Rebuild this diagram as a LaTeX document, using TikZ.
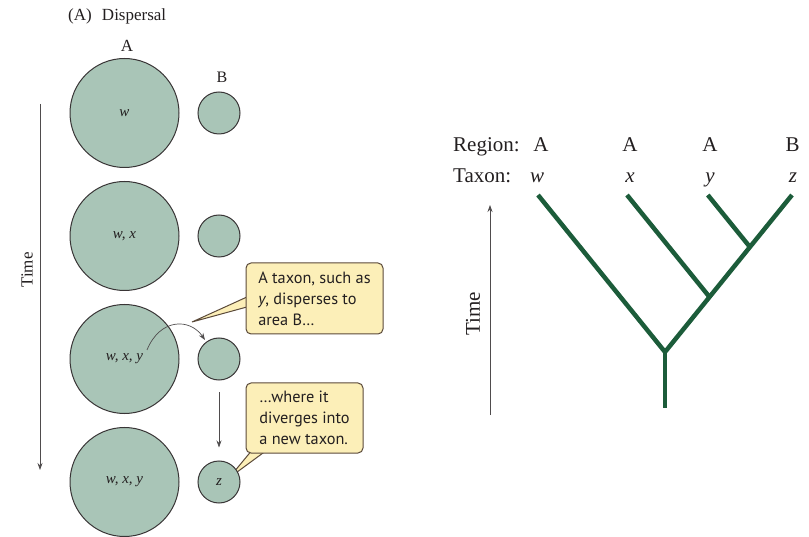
\documentclass[tikz,border=0pt]{standalone}
\usepackage{fontspec}
\setmainfont{Liberation Serif}
\newfontfamily\calloutfont{PT Sans}
\usetikzlibrary{arrows.meta,backgrounds}
\definecolor{sage}{HTML}{A9C5B7}
\definecolor{ink}{HTML}{231F20}
\definecolor{notefill}{HTML}{FCEFB8}
\definecolor{noteedge}{HTML}{5B4A3A}
\definecolor{branch}{HTML}{1C5C3A}

\begin{document}
\begin{tikzpicture}[x=1pt,y=-1pt,
  area/.style={circle, draw=ink!90, line width=1pt, fill=sage, inner sep=0pt,
    text=ink, font=\fontsize{15}{15}\selectfont\itshape},
  bigarea/.style={area, minimum size=109pt},
  smallarea/.style={area, minimum size=42pt},
  note/.style={draw=noteedge, line width=1pt, fill=notefill, rounded corners=5pt,
    align=left, inner sep=0pt, text=ink,
    font=\calloutfont\fontsize{16.3}{21}\selectfont},
  pointer/.style={draw=noteedge, line width=1pt, fill=notefill, line join=miter},
  thinarrow/.style={draw=ink!80, line width=0.7pt, -{Stealth[length=7pt,width=5pt]}},
  branchline/.style={draw=branch, line width=4.5pt},
  lbl/.style={text=ink, inner sep=0pt, anchor=base}
]
\useasboundingbox (0,0) rectangle (809,537);

% ---------- (A) Dispersal ----------
\node[lbl, anchor=base west, font=\fontsize{17}{17}\selectfont] (title) at (68,21)
  {(A)\hspace{0.6em}Dispersal};
\node[lbl, font=\fontsize{17}{17}\selectfont] (headA) at (127,52) {A};
\node[lbl, font=\fontsize{16}{16}\selectfont] (headB) at (222,83) {B};

% areas at four moments
\node[bigarea] (a1) at (124.5,113) {w};
\node[bigarea] (a2) at (124.5,236) {w, x};
\node[bigarea] (a3) at (124.5,359) {w, x, y};
\node[bigarea] (a4) at (124.5,482) {w, x, y};
\node[smallarea] (b1) at (219,113) {};
\node[smallarea] (b2) at (219,236) {};
\node[smallarea] (b3) at (219,359) {};
\node[smallarea] (b4) at (219,482) {z};

% time axis, running downwards
\coordinate (tstart) at (40,104);
\coordinate (tend) at (40,470);
\draw[thinarrow] (tstart) -- (tend);
\node[lbl, anchor=center, rotate=90, font=\fontsize{17}{17}\selectfont] (tlabel) at (27,270) {Time};

% dispersal of y from A to B
\coordinate (ystart) at (147,350);
\coordinate (yend) at (205,340);
\draw[thinarrow] (ystart) .. controls (160,318) and (190,318) .. (yend);

% divergence within B
\draw[thinarrow] ([yshift=-12pt]b3.south) -- ([yshift=13pt]b4.north);

% callouts
\node[note, minimum width=137pt, minimum height=71pt] (n1) at (314.5,298.5)
  {A taxon, such as\\\textit{y}, disperses to\\area B…};
\node[note, minimum width=117pt, minimum height=70pt] (n2) at (304.5,418)
  {…where it\\diverges into\\a new taxon.};
\coordinate (tip1) at (192,322);
\coordinate (tip2) at (229,478);
\begin{scope}[on background layer]
  \filldraw[pointer] (252,294.7) -- (tip1) -- (252,305.6);
  \filldraw[pointer] (253.8,448) -- (tip2) -- (269.8,448);
\end{scope}

% ---------- phylogeny ----------
\node[lbl, anchor=base west, font=\fontsize{21}{21}\selectfont] (region) at (453,152) {Region:};
\node[lbl, anchor=base west, font=\fontsize{21}{21}\selectfont] (taxon) at (453,183) {Taxon:};
\begin{scope}[font=\fontsize{21}{21}\selectfont]
  \node[lbl] (rw) at (541,152) {A};
  \node[lbl] (rx) at (630,152) {A};
  \node[lbl] (ry) at (710,152) {A};
  \node[lbl] (rz) at (792.5,152) {B};
  \node[lbl] (lw) at (537,183) {\textit{w}};
  \node[lbl] (lx) at (630,183) {\textit{x}};
  \node[lbl] (ly) at (710,183) {\textit{y}};
  \node[lbl] (lz) at (793,183) {\textit{z}};
\end{scope}

\coordinate (w) at (538,195);
\coordinate (x) at (627,195);
\coordinate (y) at (707.8,195);
\coordinate (z) at (792,195);
\coordinate (root) at (665,352);
\coordinate (stem) at (665,408);
\coordinate (nx) at (709.5,297);
\coordinate (nyz) at (749.9,247);
\draw[branchline] (w) -- (root) -- (z);
\draw[branchline] (x) -- (nx);
\draw[branchline] (y) -- (nyz);
\draw[branchline] (root) -- (stem);

% time axis, running upwards
\coordinate (ustart) at (490,415);
\coordinate (uend) at (490,205);
\draw[thinarrow] (ustart) -- (uend);
\node[lbl, anchor=center, rotate=90, font=\fontsize{21}{21}\selectfont] (ulabel) at (473,314) {Time};
\end{tikzpicture}
\end{document}
